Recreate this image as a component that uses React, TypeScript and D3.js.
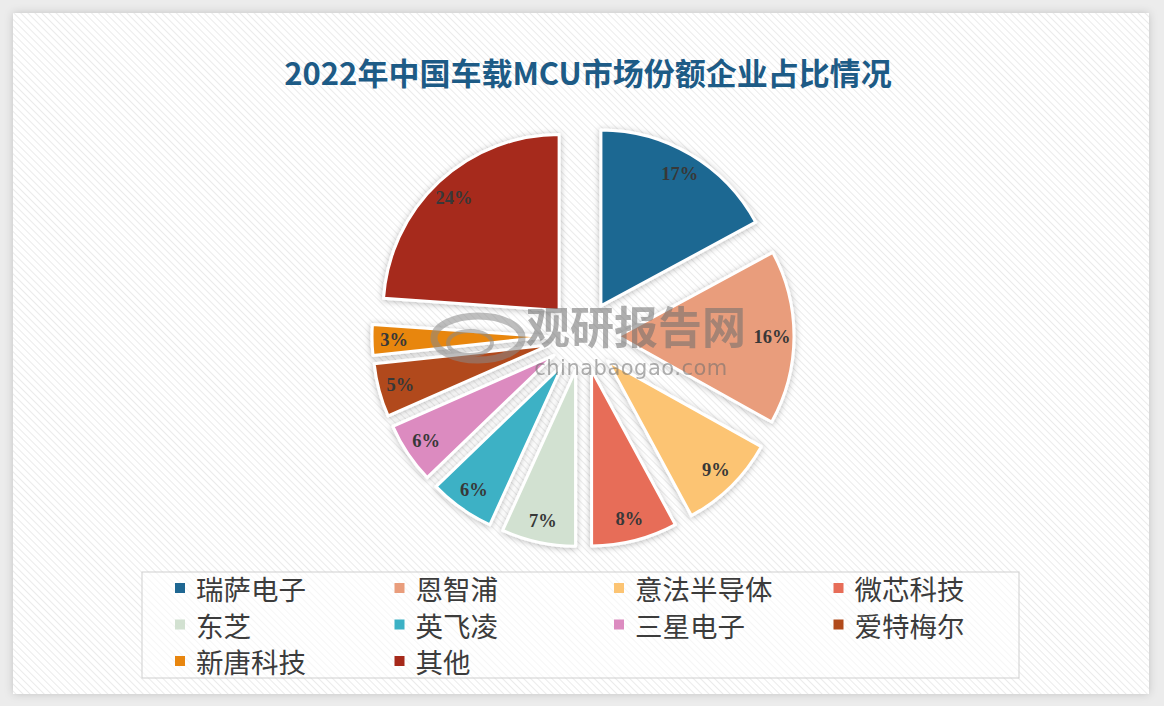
import React from "react";
import * as d3 from "d3";

// 2022年中国车载MCU市场份额企业占比情况
const companies = ["瑞萨电子", "恩智浦", "意法半导体", "微芯科技", "东芝", "英飞凌", "三星电子", "爱特梅尔", "新唐科技", "其他"];
const shares = [17.1, 16.0, 9.0, 7.9, 6.8, 6.0, 5.6, 4.9, 2.8, 23.9];
const colors = ["#1f6792", "#e99d7c", "#fcc473", "#e76d58", "#d2e1d1", "#3cb1c5", "#dc8bc0", "#b14a1b", "#e8860f", "#a6291a"];

const W = 1164;
const H = 706;
const cx = 583;
const cy = 336;
const radius = 176;
const explode = 35;
const labelR = 154;

export default function App() {
  const pie = d3.pie<number>().sort(null).value(d => d);
  const arcs = pie(shares);
  const arc = d3.arc<d3.PieArcDatum<number>>().innerRadius(0).outerRadius(radius);

  const legendX = d3.scaleLinear().domain([0, 1]).range([175, 394.5]);
  const legendY = d3.scaleLinear().domain([0, 1]).range([588, 624.5]);

  return (
    <svg width={W} height={H} style={{ position: "absolute", left: 0, top: 0 }}>
      <defs>
        <pattern id="hatch" width="5" height="5" patternUnits="userSpaceOnUse" patternTransform="rotate(-45)">
          <rect width="5" height="5" fill="#ffffff" />
          <line x1="0" y1="0" x2="0" y2="5" stroke="#ebebeb" strokeWidth="2" />
        </pattern>
        <filter id="shadow" x="-20%" y="-20%" width="140%" height="140%">
          <feDropShadow dx="0" dy="1" stdDeviation="3" floodColor="#000" floodOpacity="0.28" />
        </filter>
        <filter id="cardShadow" x="-5%" y="-5%" width="110%" height="110%">
          <feDropShadow dx="0" dy="0" stdDeviation="4" floodColor="#000" floodOpacity="0.18" />
        </filter>
      </defs>

      <rect width={W} height={H} fill="#ececec" />
      <rect x={13} y={13} width={1136} height={681} fill="url(#hatch)" filter="url(#cardShadow)" />

      <text x={588} y={85} textAnchor="middle" fontFamily="'Noto Sans CJK SC', 'Noto Sans', sans-serif"
        fontWeight="bold" fontSize={31} fill="#1d5b86">
        2022年中国车载MCU市场份额企业占比情况
      </text>

      <g transform={`translate(${cx},${cy})`}>
        {arcs.map((a, i) => {
          const mid = (a.startAngle + a.endAngle) / 2;
          const dx = Math.sin(mid) * explode;
          const dy = -Math.cos(mid) * explode;
          return (
            <g key={companies[i]} transform={`translate(${dx},${dy})`}>
              <path d={arc(a) || ""} fill={colors[i]} stroke="#ffffff" strokeWidth={3} strokeLinejoin="round" filter="url(#shadow)" />
            </g>
          );
        })}
        {arcs.map((a, i) => {
          const mid = (a.startAngle + a.endAngle) / 2;
          const r = explode + labelR;
          return (
            <text key={"l" + i} x={Math.sin(mid) * r} y={-Math.cos(mid) * r} textAnchor="middle" dominantBaseline="central"
              fontFamily="'Liberation Serif', serif" fontWeight="bold" fontSize={18.5} fill="#383838">
              {Math.round(a.data)}%
            </text>
          );
        })}
      </g>

      {/* watermark */}
      <g opacity={0.55} fill="#6e6e6e">
        <ellipse cx={478} cy={338} rx={44} ry={22} fill="none" stroke="#8a8a8a" strokeWidth={7} />
        <ellipse cx={470} cy={343} rx={22} ry={12} fill="none" stroke="#8a8a8a" strokeWidth={4} />
        <text x={636} y={344} textAnchor="middle" fontFamily="'Noto Sans CJK SC', sans-serif" fontWeight="bold" fontSize={44}>观研报告网</text>
        <text x={631} y={375} textAnchor="middle" fontFamily="'DejaVu Sans', sans-serif" fontSize={21} letterSpacing={0.5}>chinabaogao.com</text>
      </g>

      <rect x={142} y={572} width={877} height={106} fill="#ffffff" fillOpacity={0.55} stroke="#cfcfcf" strokeWidth={1} />
      {companies.map((c, i) => {
        const col = i % 4;
        const row = Math.floor(i / 4);
        const x = legendX(col);
        const y = legendY(row);
        return (
          <g key={"lg" + i}>
            <rect x={x} y={y - 5} width={10} height={10} fill={colors[i]} />
            <text x={x + 21} y={y} dominantBaseline="central" fontFamily="'Noto Sans CJK SC', sans-serif" fontSize={27.5} fill="#3c3c3c">
              {c}
            </text>
          </g>
        );
      })}
    </svg>
  );
}
